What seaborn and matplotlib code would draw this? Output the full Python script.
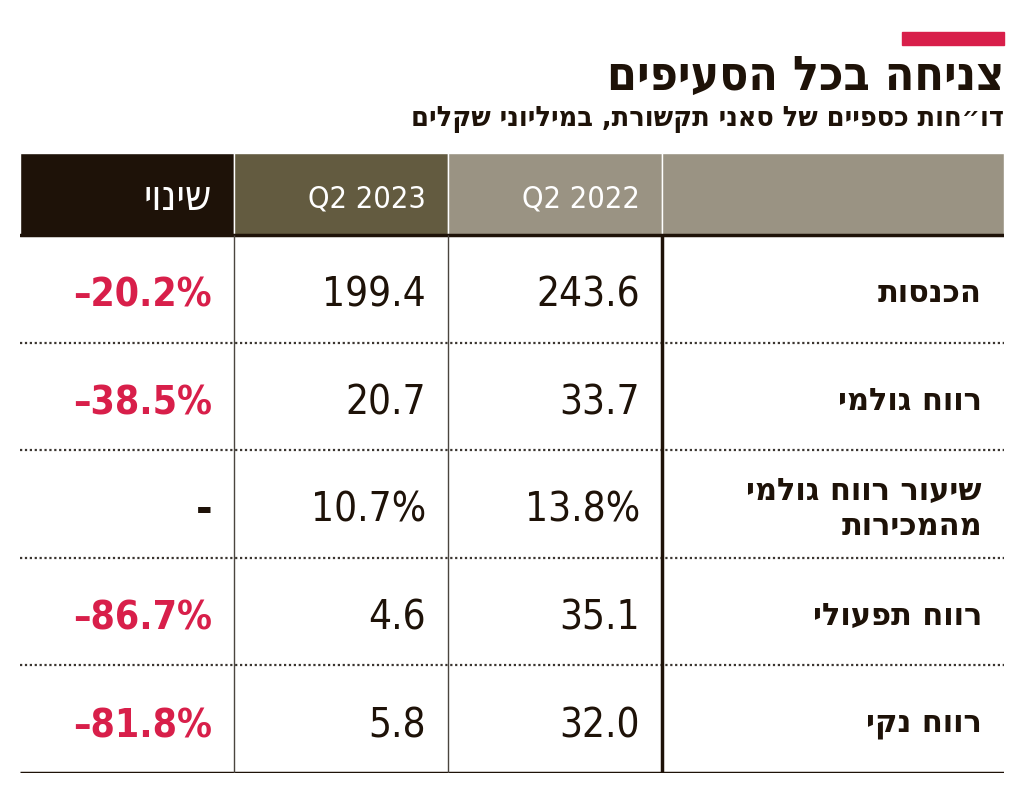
import matplotlib
matplotlib.use("Agg")
import matplotlib.pyplot as plt
from matplotlib.patches import Rectangle
import seaborn as sns

# chart data
title = "צניחה בכל הסעיפים"
subtitle = "דו״חות כספיים של סאני תקשורת, במיליוני שקלים"
header = ["שינוי", "Q2 2023", "Q2 2022", ""]
row_labels = ["הכנסות", "רווח גולמי", "שיעור רווח גולמי\nמהמכירות", "רווח תפעולי", "רווח נקי"]
q2_2022 = [243.6, 33.7, 13.8, 35.1, 32.0]
q2_2023 = [199.4, 20.7, 10.7, 4.6, 5.8]
change_pct = [-20.2, -38.5, None, -86.7, -81.8]
value_suffix = ["", "", "%", "", ""]

RED = "#d81f4a"
DARK = "#1e1208"
header_colors = ["#1e1208", "#635b40", "#9a9383", "#9a9383"]


def rtl(s):
    # matplotlib has no bidi support: put Hebrew lines in visual order
    return "\n".join(line[::-1] for line in s.split("\n"))


sns.set_theme(style="white")
plt.rcParams["font.family"] = ["DejaVu Sans", "Liberation Sans"]

W, H = 1024, 795
fig = plt.figure(figsize=(W / 100, H / 100), dpi=100)
fig.patch.set_facecolor("white")

# table area in pixel-like units
left, right, top, bottom = 20, 1004, 153, 773
ax = fig.add_axes([left / W, 1 - bottom / H, (right - left) / W, (bottom - top) / H])
tw, th = right - left, bottom - top
ax.set_xlim(0, tw)
ax.set_ylim(th, 0)
ax.axis("off")

col_edges = [0, 214, 428, 642, tw]
col_w = [col_edges[i + 1] - col_edges[i] for i in range(4)]
head_h = 82
row_h = (th - head_h) / len(row_labels)
pad = 22

# header cells
ax.bar(col_edges[:4], [head_h] * 4, width=col_w, bottom=0, align="edge",
       color=header_colors, edgecolor="white", linewidth=1)
for i, txt in enumerate(header):
    if not txt:
        continue
    if txt.startswith("Q"):
        ax.text(col_edges[i + 1] - pad, head_h / 2 + 5, txt, ha="right", va="center",
                color="white", fontsize=22, fontstretch="condensed")
    else:
        ax.text(col_edges[i + 1] - pad, head_h / 2 + 4, rtl(txt), ha="right", va="center",
                color="white", fontsize=30, fontstretch="condensed")
ax.axhline(head_h, color=DARK, lw=2.5)

# rows
for i, lab in enumerate(row_labels):
    yc = head_h + (i + 0.5) * row_h + 4
    ax.text(col_edges[4] - pad, yc + 1, rtl(lab), ha="right", va="center",
            multialignment="right", color=DARK, fontsize=22, fontweight="bold",
            linespacing=1.3)
    ax.text(col_edges[3] - pad, yc + 3, f"{q2_2022[i]:.1f}{value_suffix[i]}",
            ha="right", va="center", color=DARK, fontsize=29, fontstretch="condensed")
    ax.text(col_edges[2] - pad, yc + 3, f"{q2_2023[i]:.1f}{value_suffix[i]}",
            ha="right", va="center", color=DARK, fontsize=29, fontstretch="condensed")
    c = change_pct[i]
    if c is None:
        ax.text(col_edges[1] - pad, yc + 3, "-", ha="right", va="center",
                color=DARK, fontsize=29, fontweight="bold")
    else:
        ax.text(col_edges[1] - pad, yc + 3, f"\u2013{abs(c):.1f}%", ha="right", va="center",
                color=RED, fontsize=28, fontweight="bold", fontstretch="condensed")
    ybot = head_h + (i + 1) * row_h
    if i < len(row_labels) - 1:
        ax.hlines(ybot, 0, tw, color="#3a3530", lw=1.6, linestyles=(0, (1, 1.2)))
    else:
        ax.hlines(ybot, 0, tw, color=DARK, lw=2.5)

ax.vlines(col_edges[1:3], head_h, th, color="#4a453f", lw=1)
ax.vlines(col_edges[3], head_h, th, color=DARK, lw=2.5)

# title block
fig.patches.append(Rectangle((902 / W, 1 - 45 / H), 102 / W, 13 / H,
                             transform=fig.transFigure, color=RED))
fig.text(1004 / W, 1 - 76 / H, rtl(title), ha="right", va="center",
         color=DARK, fontsize=34.5, fontweight="bold", fontstretch="condensed")
fig.text(1004 / W, 1 - 119 / H, rtl(subtitle), ha="right", va="center",
         color=DARK, fontsize=20.5, fontweight="bold", fontstretch="condensed")

fig.savefig("out.png", dpi=100, facecolor="white")
